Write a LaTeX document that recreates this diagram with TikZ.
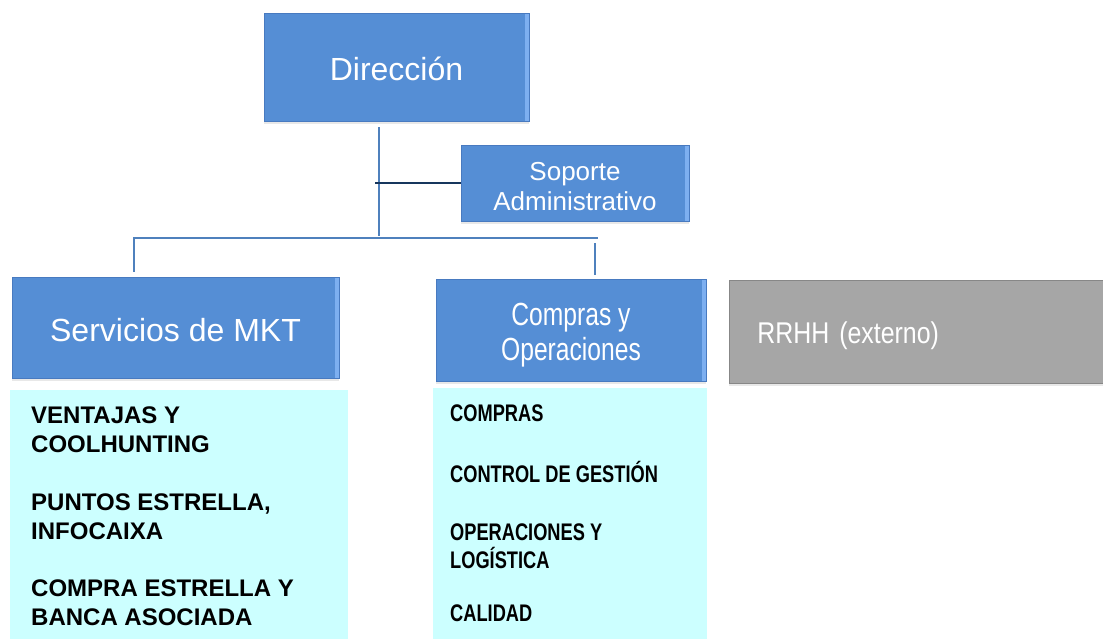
\documentclass[tikz,border=0pt]{standalone}
\usepackage{fontspec}
\setmainfont{Liberation Sans}
\newfontfamily\condA[FakeStretch=0.77]{Liberation Sans}
\newfontfamily\condB[FakeStretch=0.83]{Liberation Sans}
\newfontfamily\condC[FakeStretch=0.76]{Liberation Sans}
\usetikzlibrary{shadows}
\definecolor{boxblue}{RGB}{85,142,213}
\definecolor{boxedge}{RGB}{72,122,192}
\definecolor{bevel}{RGB}{125,175,240}
\definecolor{boxgray}{RGB}{166,166,166}
\definecolor{grayedge}{RGB}{135,135,135}
\definecolor{listcyan}{RGB}{204,255,255}
\definecolor{linkblue}{RGB}{79,129,189}
\definecolor{linknavy}{RGB}{23,54,93}
% #1 height above first baseline, #2 depth below it, #3 content
\newcommand{\boxtext}[3]{\raisebox{0pt}[#1][#2]{#3}}
\newcommand{\twolines}[2]{\begin{tabular}[t]{@{}c@{}}#1\\#2\end{tabular}}
\begin{document}
\begin{tikzpicture}[x=1pt,y=-1pt,
  orgbox/.style={rectangle, fill=boxblue, draw=boxedge, line width=0.8pt,
    text=white, inner sep=0pt, align=center,
    drop shadow={opacity=0.18, shadow xshift=0pt, shadow yshift=-3pt},
    path picture={\fill[bevel] ([xshift=-4pt]path picture bounding box.north east)
      rectangle (path picture bounding box.south east);}},
  graybox/.style={rectangle, fill=boxgray, draw=grayedge, line width=0.8pt,
    text=white, inner ysep=0pt,
    drop shadow={opacity=0.18, shadow xshift=0pt, shadow yshift=-3pt}},
  listbox/.style={rectangle, fill=listcyan, draw=none, inner sep=0pt},
  itemL/.style={anchor=base west, align=left, inner sep=0pt,
    font=\bfseries\fontsize{24}{28.5}\selectfont},
  itemR/.style={anchor=base west, align=left, inner sep=0pt,
    font=\condC\bfseries\fontsize{24}{27.5}\selectfont},
  link/.style={draw=linkblue, line width=2.2pt},
  sidelink/.style={draw=linknavy, line width=2.6pt}]
\useasboundingbox (0,0) rectangle (1103,638);
\clip (0,0) rectangle (1103,638);

% boxes
\node[orgbox, minimum width=265pt, minimum height=108pt,
  font=\fontsize{32}{35}\selectfont] (dir) at (396.5,67)
  {\boxtext{26pt}{0pt}{Dirección}};
\node[orgbox, minimum width=228pt, minimum height=76pt,
  font=\fontsize{26}{30}\selectfont] (sop) at (575,183)
  {\boxtext{20pt}{26pt}{\twolines{Soporte}{Administrativo}}};
\node[orgbox, minimum width=327pt, minimum height=101pt,
  font=\fontsize{32}{35}\selectfont] (mkt) at (175.5,327.5)
  {\boxtext{27pt}{0pt}{Servicios de MKT}};
\node[orgbox, minimum width=270pt, minimum height=102pt,
  font=\condA\fontsize{32}{35}\selectfont] (ops) at (571,330)
  {\boxtext{25pt}{35pt}{\twolines{Compras y}{Operaciones}}};
\node[graybox, anchor=north west, minimum height=103pt, text width=360pt,
  align=left, inner xsep=28pt, font=\condB\fontsize{30}{34}\selectfont]
  (rrhh) at (729,280) {\boxtext{24pt}{0pt}{RRHH (externo)}};

% lists
\node[listbox, anchor=north west, minimum width=338pt, minimum height=250pt] (listL) at (10,390) {};
\node[listbox, anchor=north west, minimum width=274pt, minimum height=252pt] (listR) at (433,388) {};

\node[itemL] (l1) at (31,452) {VENTAJAS Y\\COOLHUNTING};
\node[itemL] (l2) at (31,539) {PUNTOS ESTRELLA,\\INFOCAIXA};
\node[itemL] (l3) at (31,625) {COMPRA ESTRELLA Y\\BANCA ASOCIADA};

\node[itemR] (r1) at (450,421) {COMPRAS};
\node[itemR] (r2) at (450,482) {CONTROL DE GESTIÓN};
\node[itemR] (r3) at (450,568) {OPERACIONES Y\\LOGÍSTICA};
\node[itemR] (r4) at (450,621) {CALIDAD};

% connectors
\coordinate (dtop) at (379,127);
\coordinate (dbar) at (379,236);
\coordinate (sj) at (375,183);
\coordinate (barL) at (133,238);
\coordinate (barR) at (598,238);
\coordinate (mktTop) at (134,272);
\coordinate (opsBar) at (595,243);
\coordinate (opsTop) at (595,275);

\draw[link] (dtop) -- (dbar);
\draw[sidelink] (sj) -- (sop.west);
\draw[link] (barL) -- (barR);
\draw[link] (barL -| mktTop) -- (mktTop);
\draw[link] (opsBar) -- (opsTop);
\end{tikzpicture}
\end{document}
